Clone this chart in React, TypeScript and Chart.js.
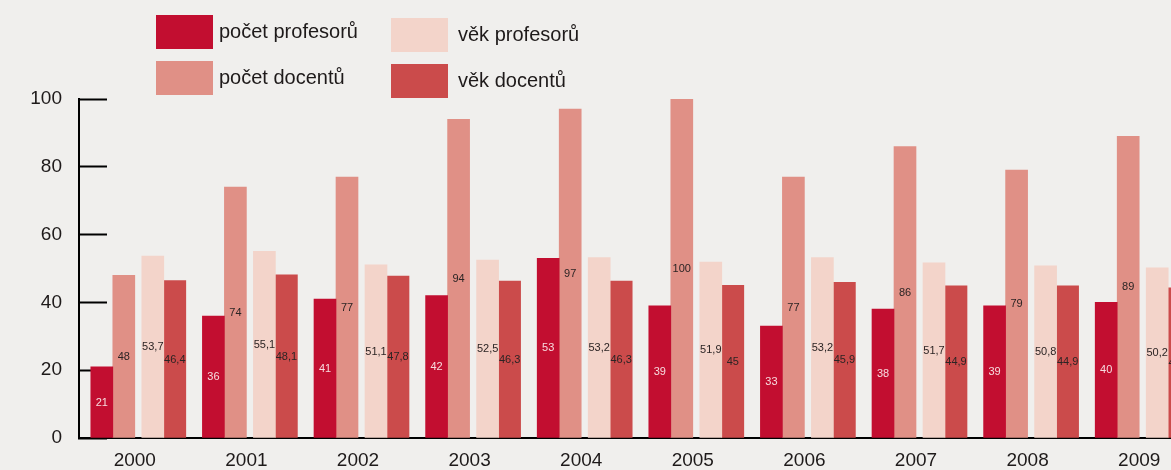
import React, { useEffect, useRef } from "react";
import { Chart, registerables } from "chart.js";

Chart.register(...registerables);

const years = ["2000", "2001", "2002", "2003", "2004", "2005", "2006", "2007", "2008", "2009"];
const pocetProfesoru = [21, 36, 41, 42, 53, 39, 33, 38, 39, 40];
const pocetDocentu = [48, 74, 77, 94, 97, 100, 77, 86, 79, 89];
const vekProfesoru = [53.7, 55.1, 51.1, 52.5, 53.2, 51.9, 53.2, 51.7, 50.8, 50.2];
const vekDocentu = [46.4, 48.1, 47.8, 46.3, 46.3, 45, 45.9, 44.9, 44.9, 44.3];
const seriesNames = ["počet profesorů", "počet docentů", "věk profesorů", "věk docentů"];
const yTicks = [0, 20, 40, 60, 80, 100];

const seriesColors = ["#C20E30", "#E09086", "#F3D4CA", "#CB4B4B"];
const labelColors = ["#F7DCDF", "#2B2424", "#2B2424", "#2B2424"];
// slot widths per dataset: gives two touching pairs with a small gap between them
const slotThickness = [22, 22, 36, 80 / 3];
const FONT = "'Liberation Sans', Arial, Helvetica, sans-serif";
const BG = "#F0EFED";
const CANVAS_W = 1195;
const CANVAS_H = 470;

// legend placement (2 columns x 2 rows)
const legendPlacement = [
  { left: 156, top: 15, gap: 6 },
  { left: 156, top: 61, gap: 6 },
  { left: 391, top: 18, gap: 10 },
  { left: 391, top: 64, gap: 10 },
];

const valueLabels = {
  id: "valueLabels",
  afterDatasetsDraw(chart: any) {
    const ctx = chart.ctx;
    ctx.save();
    ctx.font = `11px ${FONT}`;
    ctx.textAlign = "center";
    ctx.textBaseline = "middle";
    chart.data.datasets.forEach((ds: any, i: number) => {
      const meta = chart.getDatasetMeta(i);
      meta.data.forEach((el: any, j: number) => {
        const v = ds.data[j];
        if (v === null || v === undefined) return;
        const p = el.getProps(["x", "y", "base"], true);
        ctx.fillStyle = labelColors[i];
        ctx.fillText(String(v).replace(".", ","), p.x, (p.y + p.base) / 2 + 0.5);
      });
    });
    ctx.restore();
  },
};

export default function App() {
  const canvasRef = useRef<HTMLCanvasElement | null>(null);

  useEffect(() => {
    if (!canvasRef.current) return;
    const seriesData = [pocetProfesoru, pocetDocentu, vekProfesoru, vekDocentu];
    const chart = new Chart(canvasRef.current, {
      type: "bar",
      data: {
        labels: years,
        datasets: seriesData.map((d, i) => ({
          label: seriesNames[i],
          data: d,
          backgroundColor: seriesColors[i],
          borderWidth: 0,
          barThickness: slotThickness[i],
          maxBarThickness: 22,
        })),
      },
      options: {
        animation: false,
        responsive: false,
        devicePixelRatio: 1,
        layout: { padding: { top: 99, left: 0, right: 0, bottom: 0 } },
        plugins: {
          legend: { display: false },
          tooltip: { enabled: false },
        },
        scales: {
          x: {
            offset: true,
            grid: { display: true, drawOnChartArea: false, drawTicks: false },
            border: { display: true, color: "#000000", width: 2 },
            ticks: {
              color: "#1E1A1A",
              font: { family: FONT, size: 19 },
              padding: 11,
              maxRotation: 0,
              autoSkip: false,
            },
            afterFit: (scale: any) => {
              scale.height = 32;
            },
          },
          y: {
            min: yTicks[0],
            max: yTicks[yTicks.length - 1],
            grid: {
              display: true,
              drawOnChartArea: false,
              drawTicks: true,
              tickLength: -28,
              tickWidth: 2,
              tickColor: "#000000",
            },
            border: { display: true, color: "#000000", width: 2 },
            ticks: {
              stepSize: yTicks[1] - yTicks[0],
              color: "#1E1A1A",
              font: { family: FONT, size: 19 },
              padding: 45,
            },
            afterFit: (scale: any) => {
              scale.width = 79;
              scale.paddingTop = 0;
              scale.paddingBottom = 0;
            },
          },
        },
      },
      plugins: [valueLabels],
    });
    return () => chart.destroy();
  }, []);

  return (
    <div
      style={{
        position: "fixed",
        left: 0,
        top: 0,
        width: 1171,
        height: 470,
        overflow: "hidden",
        background: BG,
        fontFamily: FONT,
      }}
    >
      <canvas
        ref={canvasRef}
        width={CANVAS_W}
        height={CANVAS_H}
        style={{ position: "absolute", left: 0, top: 0, width: CANVAS_W, height: CANVAS_H }}
      />
      {seriesNames.map((name, i) => (
        <div
          key={name}
          style={{
            position: "absolute",
            left: legendPlacement[i].left,
            top: legendPlacement[i].top,
            height: 34,
            display: "flex",
            alignItems: "center",
            whiteSpace: "nowrap",
          }}
        >
          <div style={{ width: 57, height: 34, background: seriesColors[i] }} />
          <span
            style={{
              marginLeft: legendPlacement[i].gap,
              fontSize: 20,
              color: "#1E1A1A",
              lineHeight: "34px",
              position: "relative",
              top: -1,
            }}
          >
            {name}
          </span>
        </div>
      ))}
    </div>
  );
}
